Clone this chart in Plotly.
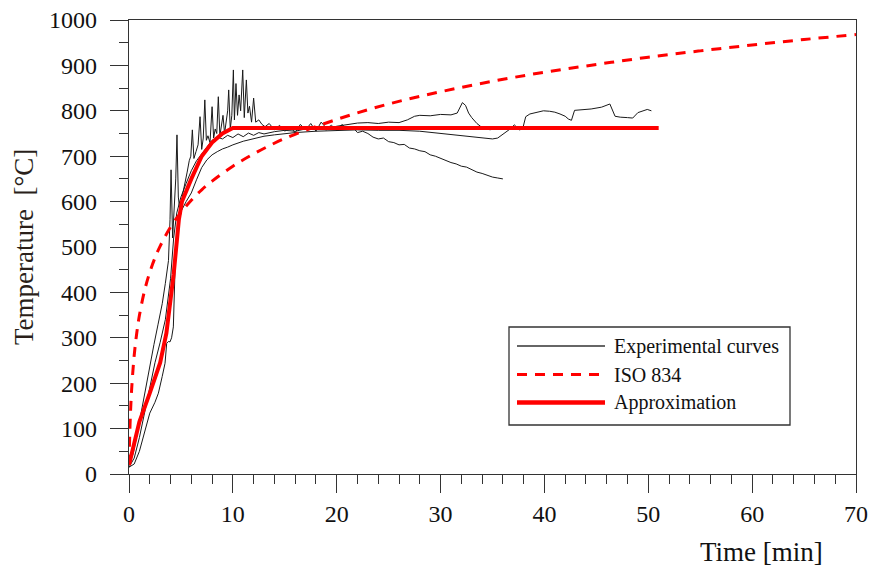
import plotly.graph_objects as go

# ---------------- data ----------------
exp1_t = [0, 0.4, 0.8, 1.2, 1.6, 2.0, 2.4, 2.8, 3.2, 3.5, 3.8, 3.95, 4.05, 4.2, 4.35, 4.5, 4.62, 4.75, 4.9, 5.05,
          5.2, 5.4, 5.6, 5.8, 5.95, 6.1, 6.25, 6.45, 6.65, 6.84, 7.0, 7.15, 7.3, 7.45, 7.6, 7.8, 8.0, 8.15, 8.3, 8.45,
          8.6, 8.75, 8.9, 9.05, 9.2, 9.35, 9.5, 9.6, 9.75, 9.9, 10.05, 10.15, 10.3, 10.45, 10.6, 10.75, 10.95, 11.1,
          11.3, 11.45, 11.6, 11.8, 12.0, 12.2, 12.5, 12.8, 13.1, 13.5,
          14, 14.5, 15, 15.5, 16, 16.5, 17, 17.5, 18, 18.5, 19, 19.5, 20, 20.5, 21, 21.5, 22,
          22.5, 23, 23.5, 24, 24.5, 25, 25.5, 26, 26.5, 27, 27.5, 28, 28.5, 29, 29.5, 30, 30.5, 31, 31.5,
          32, 32.5, 33, 33.5, 34, 34.5, 35, 35.5, 36]
exp1_T = [20, 45, 90, 140, 190, 240, 285, 330, 375, 420, 470, 560, 670, 520, 580, 650, 747, 610, 580, 595,
          620, 640, 665, 690, 700, 758, 695, 710, 725, 787, 715, 740, 824, 735, 745, 730, 809, 740, 760, 750,
          831, 745, 770, 790, 750, 775, 800, 846, 760, 790, 890, 780, 860, 790, 835, 800, 890, 785,
          868, 795, 810, 775, 828, 775, 780, 770, 765, 772,
          758, 768, 755, 765, 752, 770, 758, 772, 755, 775, 762, 768, 757, 770, 760, 765, 752,
          755, 750, 742, 738, 740, 732, 730, 725, 726, 718, 716, 712, 710, 703, 700, 695, 690, 686, 683,
          678, 676, 670, 665, 662, 658, 654, 652, 650]

exp2_t = [0, 0.5, 1, 1.5, 2, 2.5, 3, 3.5, 4, 4.3, 4.6, 5, 5.5, 6, 6.5, 7, 7.5, 8, 8.5, 9, 9.5, 10, 10.5, 11,
          11.5, 12, 12.5, 13, 14, 15, 16, 17, 18, 19, 20, 21, 22, 23, 24, 25, 26, 26.8, 27.5, 28, 29, 30, 31,
          31.6, 32.1, 32.4, 32.7, 33.0, 33.5, 34, 34.8]
exp2_T = [15, 35, 80, 135, 190, 245, 290, 340, 430, 520, 575, 610, 640, 668, 690, 705, 722, 735, 742, 738, 746,
          741, 749, 743, 751, 746, 752, 749, 754, 757, 755, 760, 763, 758, 766, 770, 773, 774, 772, 775, 774, 780,
          788, 790, 789, 792, 791, 795, 818, 812, 795, 785, 772, 763, 758]

exp3_t = [0, 0.5, 1, 1.5, 2, 2.5, 2.83, 3.2, 3.47, 3.63, 3.8, 3.95, 4.1, 4.27, 4.43, 4.65, 5, 5.5, 6, 6.5, 7,
          7.5, 8, 8.5, 9, 9.5, 10, 11, 12, 13, 14, 15, 16, 18, 20, 22, 24, 26, 28, 30, 32, 34, 35, 35.5, 36,
          36.7, 37.1, 37.3, 37.6, 37.9, 38.2, 38.6, 39.2, 39.9, 40.5, 41, 41.5, 42, 42.3, 42.6, 42.9, 43.5,
          44.5, 45.5, 46.3, 46.8, 47.3, 48, 48.5, 49, 49.5, 49.9, 50.3]
exp3_T = [15, 22, 50, 90, 134, 158, 178, 215, 244, 288, 292, 291, 300, 324, 449, 530, 578, 600, 619, 648, 675,
          692, 703, 710, 716, 720, 725, 733, 739, 744, 747, 750, 752, 755, 757, 758, 757, 757, 755, 750, 745, 740,
          738, 740, 748, 760, 769, 765, 758, 760, 787, 793, 797, 800, 799, 797, 793, 788, 782, 779, 801, 802,
          804, 808, 815, 788, 786, 785, 784, 796, 800, 803, 800]

iso_t = [0, 0.1, 0.25, 0.5, 0.75, 1, 1.5, 2, 2.5, 3, 4, 5, 6, 7, 8, 10, 12, 15, 20, 25, 30, 35, 40, 45, 50,
         55, 60, 65, 70]
iso_T = [20, 108, 185, 261, 311, 349, 404, 444, 476, 502, 544, 576, 603, 626, 645, 678, 705, 739, 781, 815, 842,
         865, 885, 902, 918, 932, 945, 957, 968]

approx_t = [0, 1, 2, 3, 3.6, 4.3, 4.8, 5.1, 6, 7, 8, 9, 10, 51]
approx_T = [20, 115, 178, 245, 310, 440, 560, 600, 650, 700, 730, 750, 762, 762]

x_ticks = [0, 10, 20, 30, 40, 50, 60, 70]
y_ticks = [0, 100, 200, 300, 400, 500, 600, 700, 800, 900, 1000]

legend_labels = ["Experimental curves", "ISO 834", "Approximation"]

# ---------------- figure ----------------
FONT = "Liberation Serif"
W, H = 872, 567
L, R, T, B = 129, 16, 20, 93
pw, ph = W - L - R, H - T - B

fig = go.Figure()
for tx, ty in [(exp1_t, exp1_T), (exp2_t, exp2_T), (exp3_t, exp3_T)]:
    fig.add_trace(go.Scatter(x=tx, y=ty, mode="lines", line=dict(color="#1a1a1a", width=1),
                             showlegend=False, hoverinfo="skip"))
fig.add_trace(go.Scatter(x=iso_t, y=iso_T, mode="lines",
                         line=dict(color="#ff0000", width=3, dash="10px,8px", shape="spline"),
                         showlegend=False))
fig.add_trace(go.Scatter(x=approx_t, y=approx_T, mode="lines", line=dict(color="#ff0000", width=4),
                         showlegend=False))

axis_common = dict(showline=True, linecolor="#333", linewidth=1.3, mirror=True, ticks="outside",
                   ticklen=18, tickcolor="#333", tickwidth=1.3, showgrid=False, zeroline=False,
                   ticklabeloverflow="allow",
                   tickfont=dict(family=FONT, size=24, color="#111"))
fig.update_xaxes(range=[0, 70], tickvals=x_ticks, ticktext=[str(v) for v in x_ticks],
                 minor=dict(dtick=2, ticklen=9, ticks="outside", tickcolor="#333", tickwidth=1.3),
                 **axis_common)
fig.update_yaxes(range=[0, 1000], tickvals=y_ticks, ticktext=[str(v) for v in y_ticks],
                 minor=dict(dtick=50, ticklen=9, ticks="outside", tickcolor="#333", tickwidth=1.3),
                 ticklabelstandoff=8, **axis_common)

# helpers converting page pixels to paper coords
def px_x(p):
    return (p - L) / pw

def px_y(p):
    return (H - B - p) / ph

shapes = [dict(type="rect", xref="paper", yref="paper", x0=px_x(509), x1=px_x(790), y0=px_y(425), y1=px_y(327),
               line=dict(color="#333", width=1.3), fillcolor="white", layer="above")]
rows = [346, 374.5, 402.5]
styles = [dict(color="#333", width=1.3), dict(color="#ff0000", width=3, dash="10px,8px"),
          dict(color="#ff0000", width=4.5)]
annotations = []
for yy, st, lab in zip(rows, styles, legend_labels):
    shapes.append(dict(type="line", xref="paper", yref="paper", x0=px_x(517), x1=px_x(605), y0=px_y(yy), y1=px_y(yy),
                       line=st, layer="above"))
    annotations.append(dict(xref="paper", yref="paper", x=px_x(612), y=px_y(yy), text=lab, showarrow=False,
                            xanchor="left", yanchor="middle", font=dict(family=FONT, size=20, color="#111")))

annotations.append(dict(xref="paper", yref="paper", x=px_x(24), y=px_y(247), text="Temperature  [°C]", textangle=-90,
                        showarrow=False, xanchor="center", yanchor="middle",
                        font=dict(family=FONT, size=27, color="#2a1f1a")))
annotations.append(dict(xref="paper", yref="paper", x=px_x(825), y=px_y(552), text="Time [min]", showarrow=False,
                        xanchor="right", yanchor="middle", font=dict(family=FONT, size=27, color="#111")))

fig.update_layout(width=W, height=H, margin=dict(l=L, r=R, t=T, b=B, autoexpand=False),
                  plot_bgcolor="white", paper_bgcolor="white", shapes=shapes, annotations=annotations,
                  showlegend=False)

fig.write_html("out.html", config={"displayModeBar": False},
               post_script="document.body.style.margin='0';document.body.style.overflow='hidden';")
